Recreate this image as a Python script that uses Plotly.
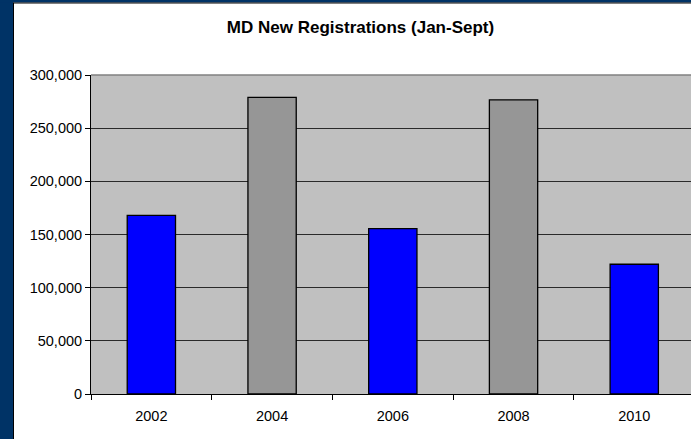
import plotly.graph_objects as go

years = ["2002", "2004", "2006", "2008", "2010"]
registrations = [168000, 279000, 155500, 276700, 122000]
bar_colors = ["#0000FF", "#969696", "#0000FF", "#969696", "#0000FF"]
y_ticks = [0, 50000, 100000, 150000, 200000, 250000, 300000]
title_text = "MD New Registrations (Jan-Sept)"

W, H = 691, 439
ML, MR, MT, MB = 91, 0, 75, 45
PW, PH = W - ML - MR, H - MT - MB
FONT = "Liberation Sans, Arial, sans-serif"


def px_x(x):
    return (x - ML) / PW


def px_y(y):
    return (H - MB - y) / PH


fig = go.Figure(
    go.Bar(
        x=years,
        y=registrations,
        marker=dict(color=bar_colors, line=dict(color="#000000", width=1.3)),
        width=0.4,
    )
)

fig.update_layout(
    width=W,
    height=H,
    margin=dict(l=ML, r=MR, t=MT, b=MB),
    paper_bgcolor="#FFFFFF",
    plot_bgcolor="#C0C0C0",
    showlegend=False,
    font=dict(family=FONT, size=14.5, color="#000000"),
    title=dict(
        text=title_text,
        font=dict(family=FONT, size=17, color="#000000", weight="bold"),
        xref="container",
        yref="container",
        x=360.5 / W,
        y=1 - 27 / H,
        xanchor="center",
        yanchor="middle",
    ),
)

fig.update_xaxes(
    type="category",
    range=[-0.5, 4.47],
    showline=True,
    linecolor="#000000",
    linewidth=1,
    ticks="outside",
    tickson="boundaries",
    ticklen=5,
    tickcolor="#000000",
    showgrid=False,
    ticklabelstandoff=9,
    tickfont=dict(family=FONT, size=14.5, color="#000000"),
)

fig.update_yaxes(
    range=[0, 300000],
    tickvals=y_ticks,
    ticktext=[f"{v:,}" for v in y_ticks],
    showline=True,
    linecolor="#000000",
    linewidth=1,
    ticks="outside",
    ticklen=5,
    tickcolor="#000000",
    showgrid=True,
    gridcolor="#2a2a2a",
    gridwidth=1,
    zeroline=False,
    tickfont=dict(family=FONT, size=14.5, color="#000000"),
)

# top edge of plot area
fig.add_shape(type="line", xref="x domain", yref="y domain", x0=0, x1=1, y0=1, y1=1,
              line=dict(color="#808080", width=1.5), layer="above")

# dark blue frame (left & top)
fig.add_shape(type="rect", xref="paper", yref="paper",
              x0=px_x(0), x1=px_x(13), y0=px_y(H), y1=px_y(0),
              fillcolor="#003366", line=dict(width=0), layer="above")
fig.add_shape(type="rect", xref="paper", yref="paper",
              x0=px_x(0), x1=px_x(W), y0=px_y(2.5), y1=px_y(0),
              fillcolor="#003366", line=dict(width=0), layer="above")
fig.add_shape(type="line", xref="paper", yref="paper",
              x0=px_x(13.5), x1=px_x(13.5), y0=px_y(H), y1=px_y(2.5),
              line=dict(color="#000000", width=1), layer="above")
fig.add_shape(type="line", xref="paper", yref="paper",
              x0=px_x(13.5), x1=px_x(W), y0=px_y(3), y1=px_y(3),
              line=dict(color="#000000", width=1), layer="above")

fig.write_html(
    "out.html",
    config={"displayModeBar": False},
    post_script="document.body.style.margin='0';document.body.style.overflow='hidden';",
)
